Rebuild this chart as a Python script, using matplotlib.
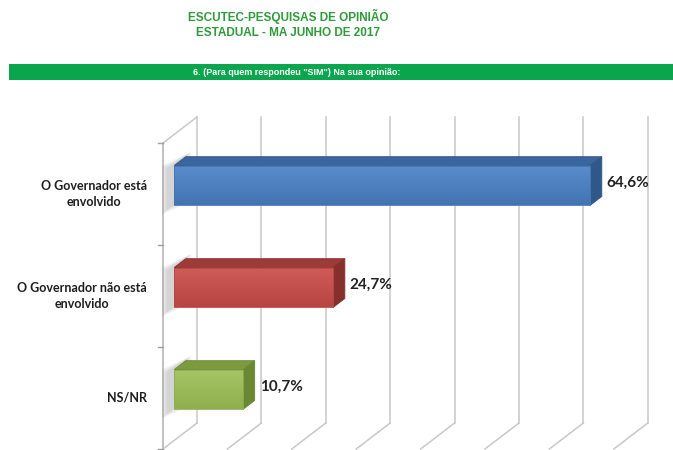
import numpy as np
import matplotlib.pyplot as plt
from matplotlib.patches import Polygon, Rectangle
from matplotlib.colors import LinearSegmentedColormap

# Data
categories = ["O Governador está\nenvolvido", "O Governador não está\nenvolvido", "NS/NR"]
values = [64.6, 24.7, 10.7]
value_labels = ["64,6%", "24,7%", "10,7%"]
grid_ticks = [0, 10, 20, 30, 40, 50, 60, 70]

# Colours (front-top, front-bottom, top face, side face)
bar_colors = [
    ("#5a8dcc", "#4373b2", "#3b659d", "#30578a"),
    ("#cf5c59", "#b84542", "#9e3a37", "#86302d"),
    ("#a6c566", "#8fae4c", "#7c9b3e", "#6a8833"),
]

# Figure in pixel-like geometry
W, H = 673, 450
fig = plt.figure(figsize=(W / 100, H / 100), dpi=100)
ax = fig.add_axes([0, 0, 1, 1])
ax.axis("off")

PX, PY = 6.44, 102.0      # px per percent, px per category
X0, Y0 = 163, 194         # pixel of value 0 / first category at front
DX, DY = 34 / PX, -26 / PY  # full depth vector in data units
D0, D1 = 0.33, 0.67       # bar depth range
BH = 0.39                 # bar height (category units)
n = len(categories)

grid_c = "#c8c8c8"

# back wall gridlines + floor diagonals
for v in grid_ticks:
    ax.plot([v + DX, v + DX], [-0.5 + DY, n - 0.5 + DY], color=grid_c, lw=1.1, zorder=1)
    ax.plot([v, v + DX], [n - 0.5, n - 0.5 + DY], color=grid_c, lw=1.1, zorder=1)

# left wall
ax.plot([0, 0], [-0.5, n - 0.5], color="#b0b0b0", lw=1.1, zorder=1)
ax.plot([0, DX], [-0.5, -0.5 + DY], color=grid_c, lw=1.1, zorder=1)
for b in np.arange(-0.5, n, 1.0):
    ax.plot([-5 / PX, 0], [b, b], color="#a0a0a0", lw=1.0, zorder=1)


def pt(v, y, d):
    return (v + d * DX, y + d * DY)


for i, (v, cols) in enumerate(zip(values, bar_colors)):
    top, bot = i - BH / 2, i + BH / 2
    c_ft, c_fb, c_top, c_side = cols

    # soft shadow on the left wall
    for k in range(5, 0, -1):
        e = k * 1.2
        sh = [
            (pt(0, top, 0.2)[0] - e / PX - 2 / PX, pt(0, top, 0.2)[1] - 0.6 * e / PY),
            (pt(0, top, D1 + 0.05)[0] + e / PX - 2 / PX, pt(0, top, D1 + 0.05)[1] - 0.6 * e / PY),
            (pt(0, bot, D1 + 0.05)[0] + e / PX - 2 / PX, pt(0, bot, D1 + 0.05)[1] + e / PY),
            (pt(0, bot, 0.2)[0] - e / PX - 2 / PX, pt(0, bot, 0.2)[1] + e / PY),
        ]
        ax.add_patch(Polygon(sh, closed=True, facecolor="#505050", edgecolor="none",
                             alpha=0.05, zorder=2))

    # top face
    top_face = [pt(0, top, D0), pt(v, top, D0), pt(v, top, D1), pt(0, top, D1)]
    ax.add_patch(Polygon(top_face, closed=True, facecolor=c_top, edgecolor=c_side,
                         lw=0.6, zorder=3))
    # side face
    side_face = [pt(v, top, D0), pt(v, top, D1), pt(v, bot, D1), pt(v, bot, D0)]
    ax.add_patch(Polygon(side_face, closed=True, facecolor=c_side, edgecolor=c_side,
                         lw=0.6, zorder=3))
    # front face with gradient
    fx0, fy0 = pt(0, top, D0)
    fx1, fy1 = pt(v, bot, D0)
    front = Rectangle((fx0, fy0), fx1 - fx0, fy1 - fy0, facecolor="none",
                      edgecolor=c_fb, lw=0.6, zorder=5)
    ax.add_patch(front)
    cmap = LinearSegmentedColormap.from_list("g%d" % i, [c_ft, c_fb])
    grad = np.linspace(0, 1, 64).reshape(-1, 1)
    im = ax.imshow(grad, cmap=cmap, extent=(fx0, fx1, fy1, fy0), origin="upper",
                   aspect="auto", zorder=4)
    im.set_clip_path(front)

    # value label
    lx = pt(v, i, D1)[0]
    ax.text(lx + 5 / PX, i + D0 * DY - 0.03, value_labels[i], ha="left", va="center",
            fontsize=11, fontweight="bold", family="Lato", color="#222222", zorder=6)

    # category label
    ax.text(-16 / PX, i, categories[i], ha="right", va="center", multialignment="center",
            fontsize=9, fontweight="bold", family="Lato", color="#1e1e1e", linespacing=1.3)

ax.set_xlim(-X0 / PX, (W - X0) / PX)
ax.set_ylim((H - Y0) / PY, -Y0 / PY)

# Titles
title_c = "#2f9a3a"
fig.text(288 / W, 1 - 16.5 / H, "ESCUTEC-PESQUISAS DE OPINIÃO", ha="center", va="center",
         fontsize=8.5, fontweight="bold", family="Liberation Sans", color=title_c)
fig.text(288 / W, 1 - 32.5 / H, "ESTADUAL - MA JUNHO DE 2017", ha="center", va="center",
         fontsize=8.5, fontweight="bold", family="Liberation Sans", color=title_c)

# Green banner
fig.patches.append(Rectangle((9 / W, 1 - 80 / H), (W - 9) / W, 16 / H,
                             transform=fig.transFigure, facecolor="#0aa64e",
                             edgecolor="none"))
fig.text(297 / W, 1 - 72.5 / H, '6. (Para quem respondeu "SIM") Na sua opinião:',
         ha="center", va="center", fontsize=6.5, fontweight="bold",
         family="Liberation Sans", color="white")

fig.savefig("out.png", dpi=100)
